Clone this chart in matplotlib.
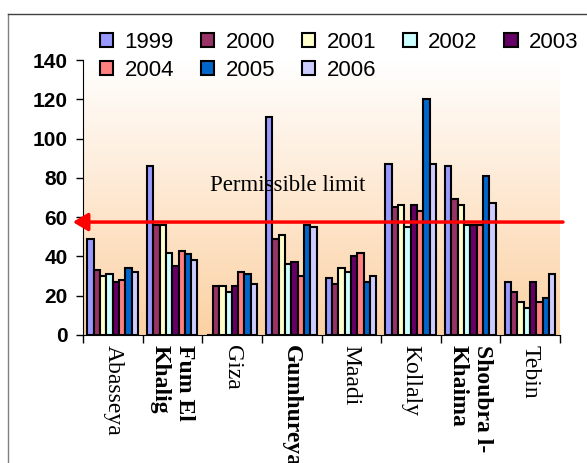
import numpy as np
import matplotlib.pyplot as plt
from matplotlib.lines import Line2D

sites = ['Abasseya', 'Fum El\nKhalig', 'Giza', 'Gumhureya', 'Maadi',
         'Kollaly', 'Shoubra l-\nKhaima', 'Tebin']
bold_sites = ['Fum El\nKhalig', 'Gumhureya', 'Shoubra l-\nKhaima']
years = ['1999', '2000', '2001', '2002', '2003', '2004', '2005', '2006']

y1999 = [49, 86, 0, 111, 29, 87, 86, 27]
y2000 = [33, 56, 25, 49, 26, 65, 69, 22]
y2001 = [30, 56, 25, 51, 34, 66, 66, 17]
y2002 = [31, 42, 22, 36, 32, 55, 56, 14]
y2003 = [27, 35, 25, 37, 40, 66, 56, 27]
y2004 = [28, 43, 32, 30, 42, 63, 56, 17]
y2005 = [34, 41, 31, 56, 27, 120, 81, 19]
y2006 = [32, 38, 26, 55, 30, 87, 67, 31]
series = [y1999, y2000, y2001, y2002, y2003, y2004, y2005, y2006]

limit = 57.5
colors = ['#9999FF', '#993366', '#FFFFCC', '#CCFFFF',
          '#660066', '#FF8080', '#0066CC', '#CCCCFF']

fig = plt.figure(figsize=(5.87, 4.63), dpi=100)
ax = fig.add_axes([83/587, 1 - 335/463, 477/587, 275/463])

# peach gradient behind the bars
grad = np.linspace(0, 1, 256)[:, None]
top = np.array([1.0, 1.0, 1.0])
bot = np.array([252, 209, 163]) / 255
img = (top + (bot - top) * grad[:, :, None])
ax.imshow(img, extent=[0, 8, 0, 140], aspect='auto', origin='upper', zorder=0)

x = np.arange(len(sites))
w = 0.106
handles = []
for j, vals in enumerate(series):
    b = ax.bar(x + 0.125 + j * w, vals, w, color=colors[j],
               edgecolor='black', linewidth=1.5, zorder=2, label=years[j])
    handles.append(b)

ax.set_xlim(0, 8)
ax.set_ylim(0, 140)
ax.set_yticks(range(0, 141, 20))
ax.tick_params(axis='y', direction='out', length=5, width=1, pad=6)
for t in ax.get_yticklabels():
    t.set_fontfamily('Liberation Sans')
    t.set_fontweight('bold')
    t.set_fontsize(15)

ax.set_xticks(range(0, 9))
ax.set_xticklabels([])
ax.tick_params(axis='x', which='major', direction='out', length=6, width=1)
ax.set_xticks(x + 0.5, minor=True)
ax.set_xticklabels(sites, minor=True, rotation=270, fontfamily='Liberation Serif',
                   fontsize=17, va='top', ha='center')
ax.tick_params(axis='x', which='minor', length=0, pad=7)
for t in ax.get_xticklabels(minor=True):
    t.set_multialignment('left')
    if t.get_text() in bold_sites:
        t.set_fontweight('bold')

for s in ['top', 'right']:
    ax.spines[s].set_visible(False)

# permissible limit arrow and label
ax.annotate('', xy=(-0.17, limit), xytext=(8.05, limit),
            arrowprops=dict(arrowstyle='-|>,head_length=0.45,head_width=0.27',
                            color='red', lw=2.5, mutation_scale=20,
                            shrinkA=0, shrinkB=0),
            annotation_clip=False, zorder=5)
ax.text(2.13, 76, 'Permissible limit', fontfamily='Liberation Serif',
        fontsize=16.5, va='center', ha='left', zorder=4)

order = [0, 5, 1, 6, 2, 7, 3, 4]
leg = fig.legend([handles[i] for i in order], [years[i] for i in order],
                 ncol=5, loc='upper left', bbox_to_anchor=(100/587, 1 - 32/463),
                 frameon=False, prop={'family': 'Liberation Sans', 'size': 16},
                 handlelength=0.6, handleheight=0.6, handletextpad=0.5,
                 columnspacing=1.22, labelspacing=0.3, borderpad=0,
                 borderaxespad=0)

# outer frame lines
fig.add_artist(Line2D([8/587, 8/587], [0, 1 - 14/463], color='#808080', lw=1))
fig.add_artist(Line2D([8/587, 1], [1 - 14/463, 1 - 14/463], color='#404040', lw=1))

fig.savefig('out.png', dpi=100)
